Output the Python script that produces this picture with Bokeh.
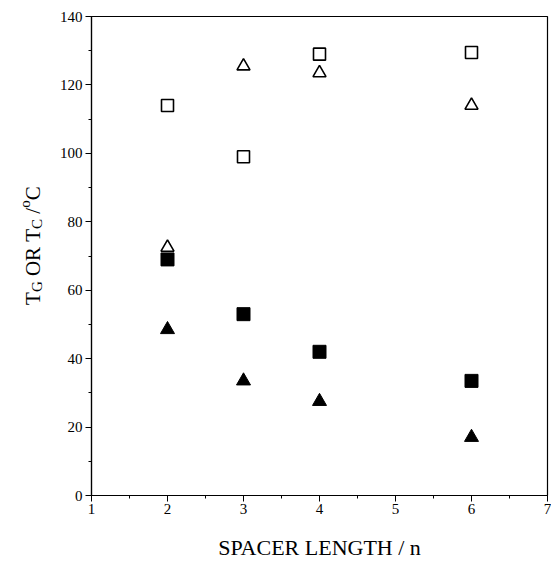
import math
from bokeh.plotting import figure
from bokeh.layouts import row
from bokeh.models import Range1d, SingleIntervalTicker, ColumnDataSource
from bokeh.core.properties import value
from bokeh.embed import file_html
from bokeh.resources import INLINE

# ---- data ----
spacer_n = [2, 3, 4, 6]
tc_open_square = [114, 99, 129, 129.5]
tc_open_triangle = [72.5, 125.5, 123.5, 114]
tg_filled_square = [69, 53, 42, 33.5]
tg_filled_triangle = [48.5, 33.5, 27.5, 17]
x_limits = [1, 7]
y_limits = [0, 140]
x_title = "SPACER LENGTH / n"
# y title pieces: (text, role)  role: main / sub / sup
y_title_pieces = [("T", "main"), ("G", "sub"), ("OR", "main"), ("T", "main"),
                  ("C", "sub"), ("/", "main"), ("o", "sup"), ("C", "main")]

FONT = "Liberation Serif"
H = 562
TITLE_W = 51
FRAME_TOP, FRAME_BOTTOM = 16, 496

# ---------------- main plot ----------------
src = ColumnDataSource(dict(n=spacer_n, osq=tc_open_square, otri=tc_open_triangle,
                            fsq=tg_filled_square, ftri=tg_filled_triangle))

p = figure(width=551 - TITLE_W, height=H, output_backend="svg", toolbar_location=None,
           x_range=Range1d(*x_limits), y_range=Range1d(*y_limits),
           min_border_left=91 - TITLE_W, min_border_right=4, min_border_top=FRAME_TOP,
           min_border_bottom=H - FRAME_BOTTOM)
p.grid.visible = False
p.outline_line_color = "black"
p.outline_line_width = 1.2
p.background_fill_color = "white"
p.border_fill_color = "white"

p.xaxis.ticker = SingleIntervalTicker(interval=1, num_minor_ticks=2)
p.yaxis.ticker = SingleIntervalTicker(interval=20, num_minor_ticks=2)
for ax in (p.xaxis[0], p.yaxis[0]):
    ax.axis_line_color = "black"
    ax.axis_line_width = 1.2
    ax.major_tick_in = 0
    ax.major_tick_out = 6
    ax.minor_tick_in = 0
    ax.minor_tick_out = 3
    ax.major_tick_line_color = "black"
    ax.minor_tick_line_color = "black"
    ax.major_label_text_font = FONT
    ax.major_label_text_font_size = "15px"
    ax.major_label_text_color = "black"
p.xaxis.major_label_standoff = 2
p.yaxis.major_label_standoff = 3

p.xaxis.axis_label = x_title
p.xaxis.axis_label_text_font = FONT
p.xaxis.axis_label_text_font_size = "22px"
p.xaxis.axis_label_text_font_style = "normal"
p.xaxis.axis_label_text_color = "black"
p.xaxis.axis_label_standoff = 18

p.scatter("n", "osq", source=src, marker="square", size=12, fill_color=None,
          line_color="black", line_width=1.6)
p.scatter("n", "otri", source=src, marker="triangle", size=13, fill_color=None,
          line_color="black", line_width=1.6)
p.scatter("n", "fsq", source=src, marker="square", size=13, fill_color="black",
          line_color="black", line_width=1)
p.scatter("n", "ftri", source=src, marker="triangle", size=14, fill_color="black",
          line_color="black", line_width=1)

# ---------------- y title strip (pixel-like coordinates) ----------------
# the row aligns this strip's frame with the main frame (page y 16..496),
# so its y range is chosen such that data y == H - page y
t = figure(width=TITLE_W, height=H, output_backend="svg", toolbar_location=None,
           x_range=Range1d(0, TITLE_W), y_range=Range1d(H - FRAME_BOTTOM, H - FRAME_TOP),
           x_axis_location=None, y_axis_location=None, title=None,
           min_border_left=0, min_border_right=0,
           min_border_top=FRAME_TOP, min_border_bottom=H - FRAME_BOTTOM)
t.grid.visible = False
t.outline_line_color = None
t.background_fill_color = "white"
t.border_fill_color = "white"

adv = {"T": 0.611, "G": 0.722, "O": 0.722, "R": 0.667, "C": 0.667, "o": 0.5, "/": 0.278}
main_size, small_size = 21, 15
base_x = 32          # baseline of the main text (px from strip left)
s = H - 305          # start of the title (px from strip bottom)
xs, ys, txts, sizes = [], [], [], []
for i, (txt, role) in enumerate(y_title_pieces):
    size = main_size if role == "main" else small_size
    off = {"main": 0, "sub": 4, "sup": -8}[role]
    # word spaces before "OR", second "T" and "/"
    if txt in ("OR", "/") or (txt == "T" and i > 0):
        s += 0.25 * main_size
    xs.append(base_x + off)
    ys.append(s)
    txts.append(txt)
    sizes.append(f"{size}px")
    s += sum(adv.get(ch, 0.6) for ch in txt) * size

tsrc = ColumnDataSource(dict(x=xs, y=ys, text=txts, size=sizes))
t.text("x", "y", text="text", source=tsrc, angle=math.pi / 2,
       text_font=value(FONT), text_font_size="size", text_align="left",
       text_baseline="alphabetic", text_color="black")

layout = row(t, p, spacing=0)
open("out.html", "w").write(file_html(layout, INLINE))
